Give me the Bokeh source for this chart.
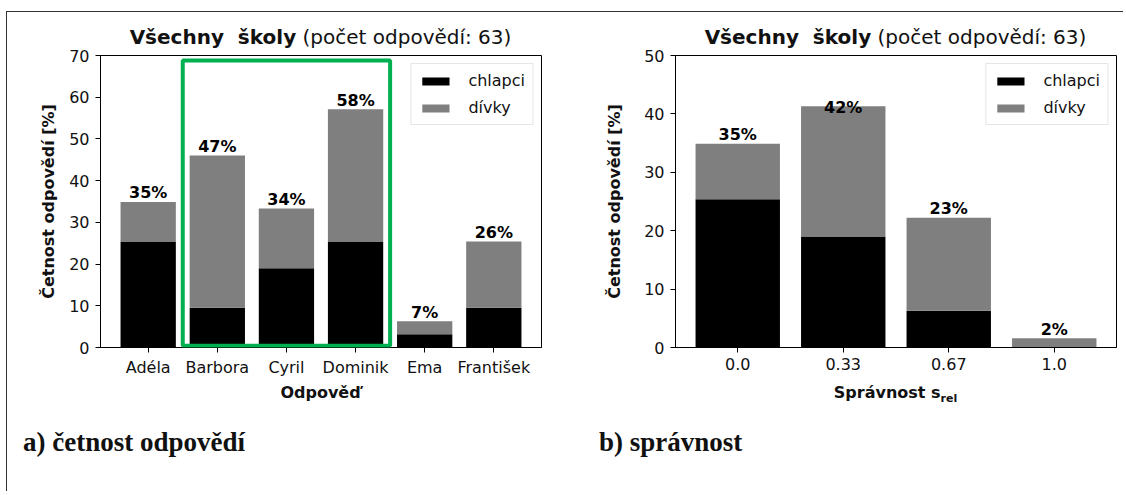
from bokeh.plotting import figure
from bokeh.models import (Range1d, FixedTicker, Legend, LegendItem,
                          BoxAnnotation, ColumnDataSource, Div)
from bokeh.layouts import row, column
from bokeh.core.properties import value
from bokeh.embed import file_html
from bokeh.resources import INLINE

# ---------------- data ----------------
answers = ["Adéla", "Barbora", "Cyril", "Dominik", "Ema", "František"]
boys_a = [25.4, 9.5, 19.0, 25.4, 3.2, 9.5]
girls_a = [9.5, 36.5, 14.3, 31.7, 3.1, 15.9]
labels_a = ["35%", "47%", "34%", "58%", "7%", "26%"]

levels = ["0.0", "0.33", "0.67", "1.0"]
boys_b = [25.4, 19.0, 6.3, 0.0]
girls_b = [9.5, 22.3, 15.9, 1.6]
labels_b = ["35%", "42%", "23%", "2%"]

series_names = ["chlapci", "dívky"]
title_bold = "Všechny  školy"
title_rest = "(počet odpovědí: 63)"
ylabel = "Četnost odpovědí [%]"
xlabel_a = "Odpověď"
xlabel_b_main = "Správnost s"
xlabel_b_sub = "rel"
caption_a = "a) četnost odpovědí"
caption_b = "b) správnost"
highlight = ["Barbora", "Dominik"]

# ---------------- layout constants ----------------
FW, FH = 441, 292
FONT = "DejaVu Sans"
TXT = "#111111"
W1, W2 = 556, 560
BL1, BL2 = 93, 112
TOPB, BOTB = 7, 33


def make_chart(cats, boys, girls, labels, ymax, width, left_border, ylab_standoff, label_dy):
    n = len(cats)
    span = (n - 1) + 0.8
    x0 = -0.4 - 0.05 * span
    x1 = n - 1 + 0.4 + 0.05 * span
    p = figure(width=width, height=TOPB + FH + BOTB, x_range=Range1d(x0, x1),
               y_range=Range1d(0, ymax), output_backend="svg", toolbar_location=None,
               title=None,
               min_border_left=left_border, min_border_right=width - left_border - FW,
               min_border_top=TOPB, min_border_bottom=BOTB)
    p.grid.visible = False
    p.outline_line_color = "black"
    p.outline_line_width = 1
    p.border_fill_alpha = 0
    p.background_fill_color = "white"

    idx = list(range(n))
    totals = [b + g for b, g in zip(boys, girls)]
    src = ColumnDataSource(dict(x=idx, boys=boys, total=totals, lab=labels, dy=label_dy))
    rb = p.vbar(x="x", width=0.8, bottom=0, top="boys", source=src,
                fill_color="black", line_color=None)
    rg = p.vbar(x="x", width=0.8, bottom="boys", top="total", source=src,
                fill_color="#7f7f7f", line_color=None)
    p.text(x="x", y="total", text="lab", y_offset="dy", source=src,
           text_align="center", text_baseline="alphabetic",
           text_font=value(FONT), text_font_size="16px", text_font_style="bold",
           text_color="black")

    p.xaxis.ticker = FixedTicker(ticks=idx)
    p.xaxis.major_label_overrides = {i: c for i, c in enumerate(cats)}
    p.yaxis.ticker = FixedTicker(ticks=list(range(0, ymax + 1, 10)))
    for ax in (p.xaxis, p.yaxis):
        ax.axis_line_color = "black"
        ax.major_tick_line_color = "black"
        ax.major_tick_out = 5
        ax.major_tick_in = 0
        ax.minor_tick_line_color = None
        ax.major_label_text_font = FONT
        ax.major_label_text_font_size = "16px"
        ax.major_label_text_color = TXT
        ax.major_label_standoff = 5
        ax.axis_label_text_font = FONT
        ax.axis_label_text_font_size = "16px"
        ax.axis_label_text_font_style = "bold"
        ax.axis_label_text_color = TXT
    p.yaxis.major_label_standoff = 6
    p.yaxis.axis_label = ylabel
    p.yaxis.axis_label_standoff = ylab_standoff

    legend = Legend(items=[LegendItem(label=series_names[0], renderers=[rb]),
                           LegendItem(label=series_names[1], renderers=[rg])],
                    location="top_right", margin=8, padding=7, spacing=8,
                    glyph_width=34, glyph_height=10, label_height=18,
                    label_standoff=16, label_text_font=FONT,
                    label_text_font_size="16px", label_text_color=TXT,
                    border_line_color="#cccccc", border_line_width=1,
                    background_fill_color="white", background_fill_alpha=1.0)
    p.add_layout(legend)
    return p


def text_div(html, width, height, pad_top, pad_left, align, font, size, weight):
    inner = (f'<div style="box-sizing:border-box; width:{width}px; '
             f'padding-top:{pad_top}px; padding-left:{pad_left}px; '
             f'text-align:{align}; font-family:\'{font}\'; font-size:{size}; '
             f'font-weight:{weight}; color:{TXT}; white-space:pre; line-height:1.0;">'
             f'{html}</div>')
    return Div(text=inner, width=width, height=height, margin=0,
               styles={"overflow": "visible"})


p1 = make_chart(answers, boys_a, girls_a, labels_a, 70, W1, BL1, 8, [-9] * len(answers))
i0, i1 = answers.index(highlight[0]), answers.index(highlight[1])
p1.add_layout(BoxAnnotation(left=i0 - 0.5, right=i1 + 0.5, bottom=0.4, top=68.8,
                            fill_alpha=0, line_color="#00b050", line_alpha=1.0,
                            line_width=4))

p2 = make_chart(levels, boys_b, girls_b, labels_b, 50, W2, BL2, 17, [-9, 1, -9, -9])

# centre offsets so the texts sit over each frame's centre
c1 = 2 * (BL1 + FW / 2) - W1
c2 = 2 * (BL2 + FW / 2) - W2
title_html = f'<b>{title_bold}</b> {title_rest}'

TH = 55 - 12 - TOPB
t1 = text_div(title_html, W1, TH, 15, int(c1), "center", FONT, "20px", "normal")
t2 = text_div(title_html, W2, TH, 15, int(c2), "center", FONT, "20px", "normal")
x1d = text_div(xlabel_a, W1, 25, 5, int(c1), "center", FONT, "16px", "bold")
x2d = text_div(f'{xlabel_b_main}<span style="font-size:11px; position:relative; top:4px;">'
               f'{xlabel_b_sub}</span>', W2, 25, 5, int(c2), "center", FONT, "16px", "bold")
cap1 = text_div(caption_a, W1, 86, 24, 16, "left", "Liberation Serif", "27px", "bold")
cap2 = text_div(caption_b, W2, 86, 24, 36, "left", "Liberation Serif", "27px", "bold")

layout = column(row(t1, t2), row(p1, p2), row(x1d, x2d), row(cap1, cap2),
                styles={"border-top": "1px solid #333333",
                        "border-left": "1px solid #333333",
                        "margin-top": "11px", "margin-left": "6px"})

open("out.html", "w").write(file_html(layout, INLINE))
